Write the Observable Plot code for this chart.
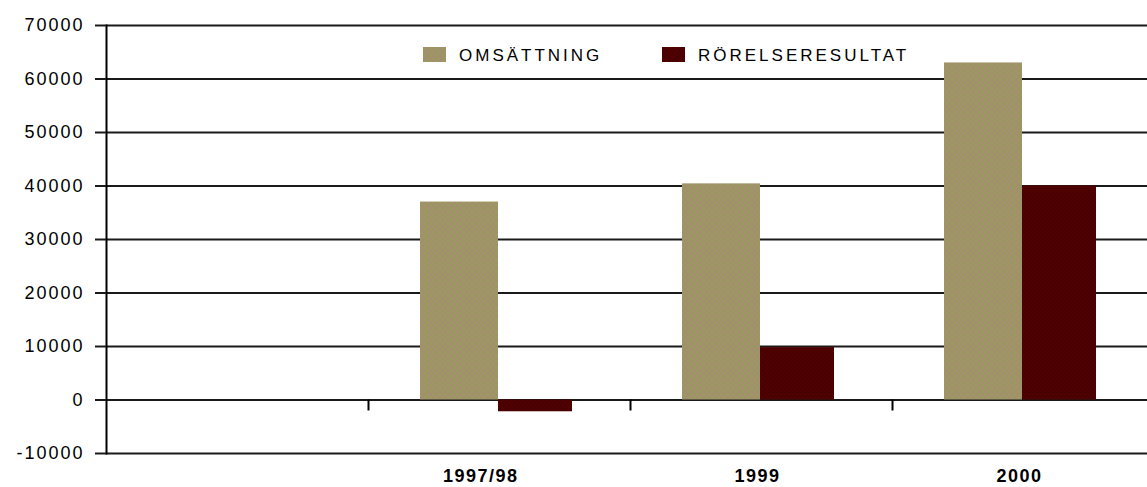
<!DOCTYPE html>
<html><head><meta charset="utf-8">
<script src="https://cdn.jsdelivr.net/npm/d3@7"></script>
<script src="https://cdn.jsdelivr.net/npm/@observablehq/plot@0.6"></script>
<style>
body{margin:0;background:#fff;overflow:hidden}
#wrap{position:relative;width:1147px;height:487px;overflow:hidden}
</style></head><body><div id="wrap"></div>
<script>
const years = ["", "1997/98", "1999", "2000"];
const omsattning = [null, 37000, 40400, 63000];
const rorelseresultat = [null, -2200, 9800, 40000];
const seriesNames = ["OMSÄTTNING", "RÖRELSERESULTAT"];
const yTicks = [-10000, 0, 10000, 20000, 30000, 40000, 50000, 60000, 70000];

const rows = years.map((y, i) => ({year: y, oms: omsattning[i], ror: rorelseresultat[i]})).filter(d => d.oms !== null);
const font = "'Liberation Sans', Arial, sans-serif";

const chart = Plot.plot({
  width: 1147, height: 487,
  marginLeft: 106, marginRight: -7, marginTop: 25, marginBottom: 34,
  style: {background: "#fff", color: "#000", fontFamily: font},
  x: {domain: years, padding: 0, axis: null},
  y: {domain: [-10000, 70000], label: null},
  marks: [
    Plot.gridY(yTicks, {stroke: "#1a1a1a", strokeOpacity: 1, strokeWidth: 2}),
    Plot.barY(rows, {x: "year", y: "oms", fill: "url(#omsPat)", insetLeft: 52, insetRight: 132}),
    Plot.barY(rows, {x: "year", y: "ror", fill: "url(#rorPat)", insetLeft: 130, insetRight: 58}),
    Plot.ruleX(years.slice(1), {x: d => d, y1: 0, y2: 0, insetBottom: -11, dx: -131, stroke: "#000", strokeWidth: 2}),
    Plot.frame({anchor: "left", stroke: "#000", strokeWidth: 2}),
    Plot.axisY(yTicks, {tickSize: 11, tickPadding: 11, fontSize: 18, tickFormat: d => String(d), stroke: "#1a1a1a", strokeWidth: 2, label: null, className: "ylab"}),
    Plot.text(years, {x: d => d, text: d => d, frameAnchor: "bottom", dy: 23, dx: 19, textAnchor: "end", lineAnchor: "middle", fontSize: 18, fontWeight: "bold", fill: "#000", className: "xlab"})
  ]
});

document.getElementById("wrap").appendChild(chart);
const svg = d3.select(chart);
svg.selectAll('g[aria-label="y-axis tick label"] text').style("letter-spacing", "2px");
svg.selectAll('g.xlab text').style("letter-spacing", "1.5px");
const defs = svg.insert("defs", ":first-child");
const p1 = defs.append("pattern").attr("id", "omsPat").attr("patternUnits", "userSpaceOnUse").attr("width", 6).attr("height", 6);
p1.append("rect").attr("width", 6).attr("height", 6).attr("fill", "#9a9a60");
[[0,0],[2,0],[1,1],[0,2],[2,2],[3,3],[5,3],[4,4],[3,5],[5,5]].forEach(([a,b]) =>
  p1.append("rect").attr("x", a).attr("y", b).attr("width", 1).attr("height", 1).attr("fill", "#ac847c"));
const p2 = defs.append("pattern").attr("id", "rorPat").attr("patternUnits", "userSpaceOnUse").attr("width", 4).attr("height", 4);
p2.append("rect").attr("width", 4).attr("height", 4).attr("fill", "#4f0000");
[[0,0],[2,2]].forEach(([a,b]) =>
  p2.append("rect").attr("x", a).attr("y", b).attr("width", 1).attr("height", 1).attr("fill", "#3a0000"));

// legend
const lg = svg.append("g").attr("font-family", font).attr("font-size", 17).attr("letter-spacing", "3px").attr("text-anchor", "start");
const legendItems = [{name: seriesNames[0], fill: "url(#omsPat)", x: 423}, {name: seriesNames[1], fill: "url(#rorPat)", x: 662}];
legendItems.forEach(it => {
  lg.append("rect").attr("x", it.x).attr("y", 47).attr("width", 23).attr("height", 15).attr("fill", it.fill);
  lg.append("text").attr("x", it.x + 36).attr("y", 61).attr("fill", "#000").attr("text-anchor", "start").text(it.name);
});
</script></body></html>
